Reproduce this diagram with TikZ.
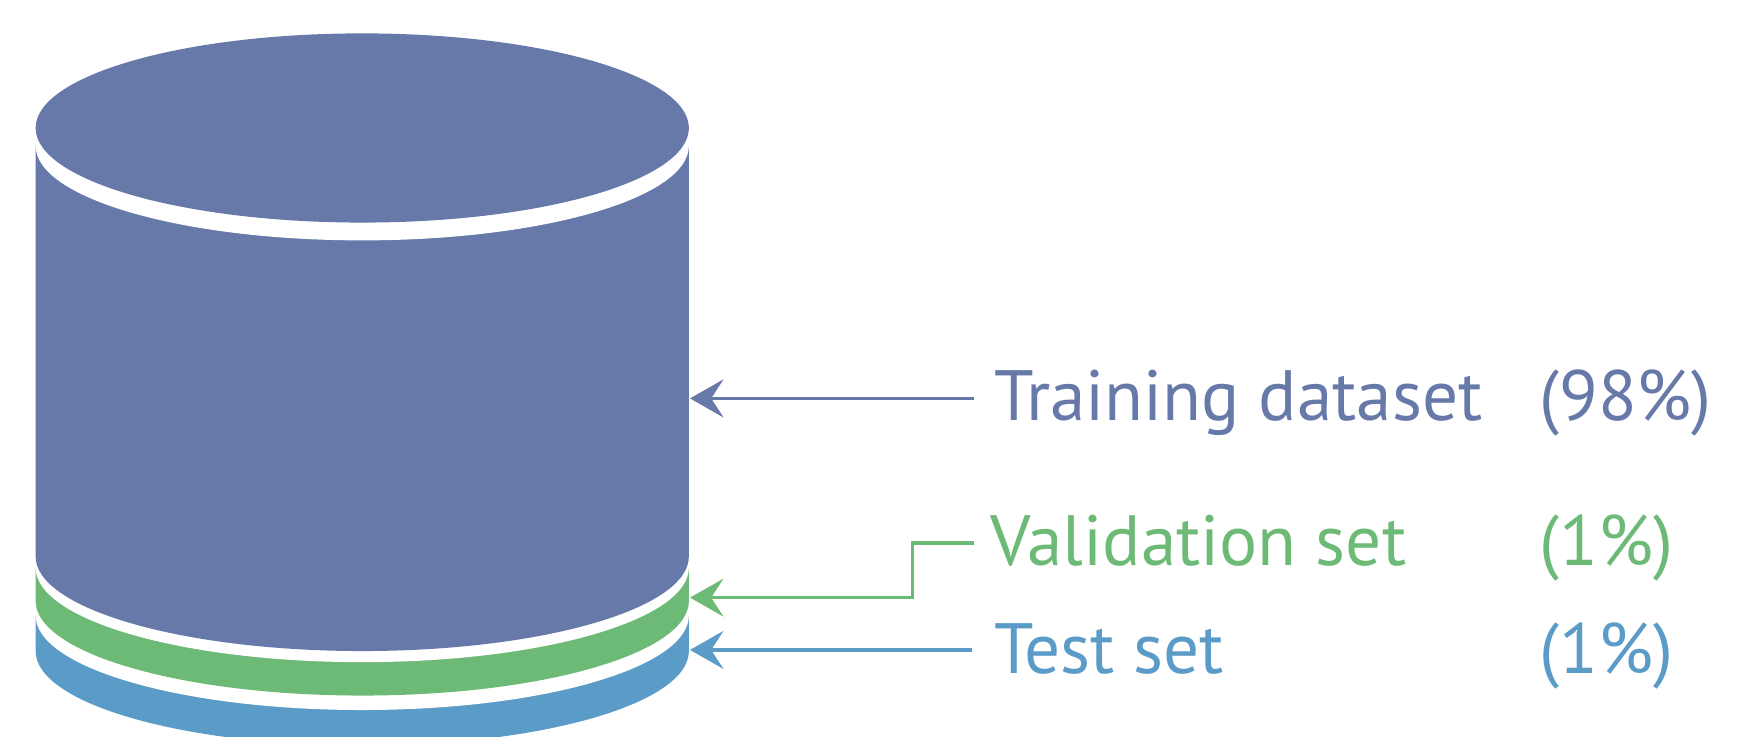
\documentclass[tikz,border=0pt]{standalone}
\usepackage{fontspec}
\setmainfont{PT Sans}
\usetikzlibrary{arrows.meta}
\definecolor{trainc}{RGB}{103,121,169}
\definecolor{valc}{RGB}{109,186,119}
\definecolor{testc}{RGB}{91,155,199}
\tikzset{
  lbl/.style={anchor=base west, inner sep=0pt, font=\fontsize{64}{70}\selectfont},
  conn/.style={line width=3pt, -{Stealth[length=30pt,width=34pt,inset=11pt]}},
}
\begin{document}
\begin{tikzpicture}[x=1pt,y=1pt]
\useasboundingbox (0,0) rectangle (1568,662);
\clip (0,0) rectangle (1568,662);
% test layer
\fill[testc] (32,109) -- (32,77) arc[start angle=180,end angle=360,x radius=293.5,y radius=85] -- (619,109) -- cycle;
\fill[white] (325.5,109) ellipse [x radius=293.5,y radius=85];
% validation layer
\fill[valc] (32,152) -- (32,122) arc[start angle=180,end angle=360,x radius=293.5,y radius=85] -- (619,152) -- cycle;
\fill[white] (325.5,152) ellipse [x radius=293.5,y radius=85];
% training body
\fill[trainc] (32,531) -- (32,162) arc[start angle=180,end angle=360,x radius=293.5,y radius=85] -- (619,531) -- cycle;
\fill[white] (325.5,531) ellipse [x radius=293.5,y radius=85];
\fill[trainc] (325.5,547) ellipse [x radius=293.5,y radius=85];
% labels
\node[lbl, text=trainc] (tr) at (893,284) {Training dataset};
\node[lbl, text=trainc] (trp) at (1383,284) {(98\%)};
\node[lbl, text=valc] (va) at (890,154) {Validation set};
\node[lbl, text=valc] (vap) at (1383,154) {(1\%)};
\node[lbl, text=testc] (te) at (893,57) {Test set};
\node[lbl, text=testc] (tep) at (1383,57) {(1\%)};
% connector ends
\coordinate (trs) at (875,304);
\coordinate (tre) at (620,304);
\coordinate (vas) at (875,174);
\coordinate (vab) at (820,174);
\coordinate (vae) at (620,125);
\coordinate (tes) at (873,78);
\coordinate (tee) at (620,78);
\draw[conn, trainc] (trs) -- (tre);
\draw[conn, valc] (vas) -- (vab) |- (vae);
\draw[conn, testc] (tes) -- (tee);
\end{tikzpicture}
\end{document}
